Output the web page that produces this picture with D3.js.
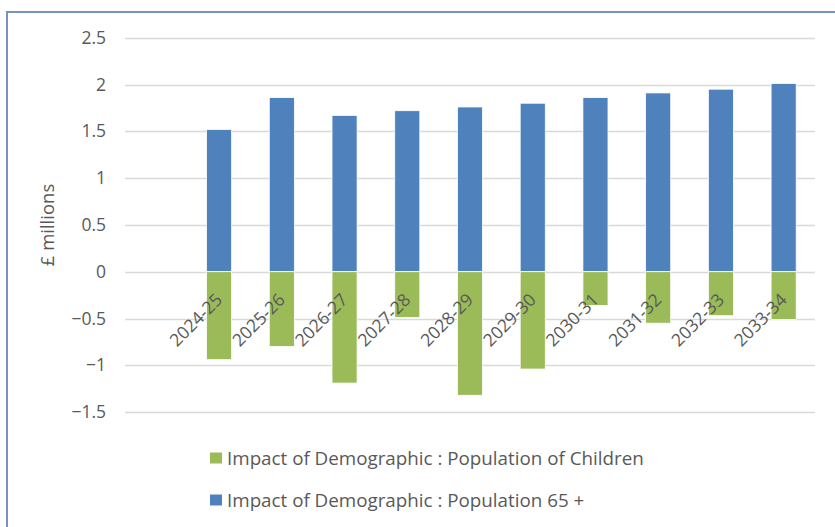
<!DOCTYPE html>
<html>
<head>
<meta charset="utf-8">
<script src="https://cdn.jsdelivr.net/npm/d3@7"></script>
<style>
  html, body { margin: 0; padding: 0; background: #fff; }
  svg { display: block; }
  text { font-family: "Open Sans", "Noto Sans", sans-serif; fill: #595959; }
</style>
</head>
<body>
<svg id="chart" width="835" height="527"></svg>
<script>
// Financial years (the first band of the axis is left empty)
const years = ["2024-25", "2025-26", "2026-27", "2027-28", "2028-29",
               "2029-30", "2030-31", "2031-32", "2032-33", "2033-34"];
// Impact of Demographic : Population 65 + (£ millions)
const pop65 = [1.52, 1.86, 1.67, 1.72, 1.76, 1.80, 1.86, 1.91, 1.95, 2.01];
// Impact of Demographic : Population of Children (£ millions)
const children = [-0.94, -0.80, -1.19, -0.49, -1.32, -1.04, -0.36, -0.55, -0.47, -0.51];
const yTicks = [2.5, 2, 1.5, 1, 0.5, 0, -0.5, -1, -1.5];
const seriesNames = ["Impact of Demographic : Population of Children",
                     "Impact of Demographic : Population 65 +"];
const colors = { children: "#9bbb59", pop65: "#4f81bd" };

const svg = d3.select("#chart");
const W = 835, H = 527;

// chart area frame
svg.append("rect")
  .attr("x", 7).attr("y", 12)
  .attr("width", W + 10).attr("height", H + 10)
  .attr("fill", "#fff")
  .attr("stroke", "#7593c2").attr("stroke-width", 2);

const plot = { left: 125, right: 815 };
const y = d3.scaleLinear().domain([-1.5, 2.5]).range([412.1, 37.7]);
const x = d3.scaleBand()
  .domain([""].concat(years))
  .range([plot.left, plot.right])
  .paddingInner(0.6).paddingOuter(0.3);

// gridlines
svg.append("g").selectAll("line").data(yTicks).join("line")
  .attr("x1", plot.left).attr("x2", plot.right)
  .attr("y1", d => Math.round(y(d)) + 0.5).attr("y2", d => Math.round(y(d)) + 0.5)
  .attr("stroke", "#d9d9d9").attr("stroke-width", 1.5);

// y axis labels
const yAxis = d3.axisLeft(y).tickValues(yTicks).tickSize(0).tickPadding(0)
  .tickFormat(d3.format(""));
svg.append("g").attr("transform", "translate(106,0)").call(yAxis)
  .call(g => g.select(".domain").remove())
  .selectAll("text")
  .style("font-family", "'Open Sans', 'Noto Sans', sans-serif")
  .style("font-size", "17.5px").attr("fill", "#595959");

svg.append("text")
  .attr("transform", "translate(48,225) rotate(-90)")
  .attr("text-anchor", "middle").attr("dy", "0.35em")
  .style("font-size", "18.5px")
  .text("£ millions");

// bars
const bars = svg.append("g");
bars.selectAll("rect.p65").data(years).join("rect")
  .attr("class", "p65")
  .attr("x", d => x(d)).attr("width", x.bandwidth())
  .attr("y", (d, i) => y(pop65[i]))
  .attr("height", (d, i) => y(0) - y(pop65[i]))
  .attr("fill", colors.pop65).attr("stroke", "#fff").attr("stroke-width", 0.8);
bars.selectAll("rect.ch").data(years).join("rect")
  .attr("class", "ch")
  .attr("x", d => x(d)).attr("width", x.bandwidth())
  .attr("y", y(0))
  .attr("height", (d, i) => y(children[i]) - y(0))
  .attr("fill", colors.children).attr("stroke", "#fff").attr("stroke-width", 0.8);

// category labels, rotated
svg.append("g").selectAll("text").data(years).join("text")
  .attr("transform", d => `translate(${x(d) + x.bandwidth() / 2},${y(0) + 25}) rotate(-45)`)
  .attr("text-anchor", "end").attr("dy", "0.35em")
  .style("font-size", "17.5px")
  .text(d => d);

// legend
const legend = svg.append("g");
const legendItems = [
  { name: seriesNames[0], color: colors.children, y: 458 },
  { name: seriesNames[1], color: colors.pop65, y: 500 }
];
legendItems.forEach(it => {
  legend.append("rect")
    .attr("x", 210).attr("y", it.y - 5.5).attr("width", 12).attr("height", 11)
    .attr("fill", it.color);
  legend.append("text")
    .attr("x", 227).attr("y", it.y).attr("dy", "0.35em")
    .style("font-size", "18.8px")
    .text(it.name);
});
</script>
</body>
</html>
